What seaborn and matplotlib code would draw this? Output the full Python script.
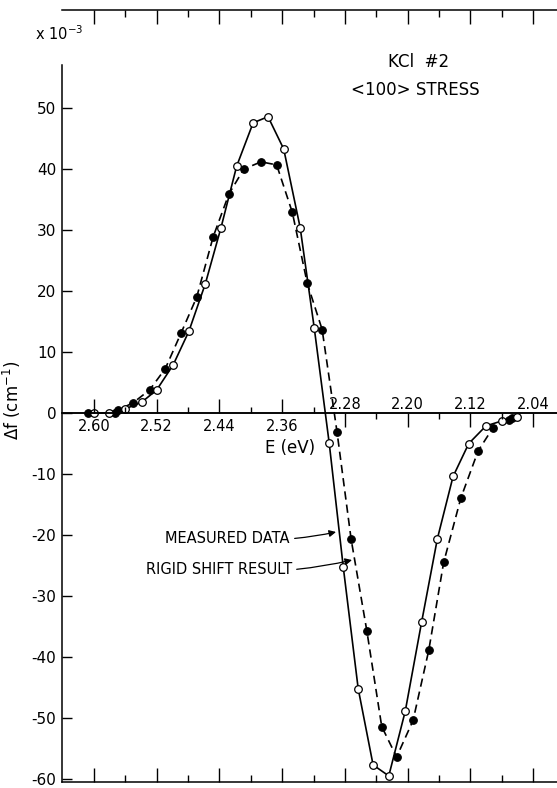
import matplotlib
matplotlib.use("Agg")
import matplotlib.pyplot as plt
import seaborn as sns

# Rigid shift result (open circles, solid line)
e_open = [2.600, 2.581, 2.560, 2.539, 2.520, 2.499, 2.479, 2.458, 2.438, 2.418,
          2.397, 2.378, 2.358, 2.337, 2.319, 2.300, 2.282, 2.263, 2.244, 2.224,
          2.203, 2.182, 2.162, 2.142, 2.122, 2.100, 2.080, 2.060]
df_open = [0.0, 0.0, 0.7, 1.8, 3.8, 7.9, 13.4, 21.2, 30.4, 40.5,
           47.6, 48.6, 43.3, 30.4, 13.9, -4.9, -25.3, -45.2, -57.7, -59.5,
           -48.9, -34.2, -20.6, -10.4, -5.0, -2.1, -1.3, -0.6]

# Measured data (filled circles, dashed line)
e_fill = [2.608, 2.573, 2.569, 2.550, 2.529, 2.509, 2.489, 2.469, 2.448, 2.428,
          2.409, 2.387, 2.367, 2.347, 2.328, 2.309, 2.290, 2.272, 2.252, 2.233,
          2.214, 2.193, 2.173, 2.154, 2.132, 2.110, 2.091, 2.071, 2.067]
df_fill = [0.0, 0.0, 0.5, 1.7, 3.8, 7.3, 13.1, 19.0, 28.9, 35.9,
           40.0, 41.2, 40.7, 32.9, 21.3, 13.7, -3.1, -20.7, -35.7, -51.4,
           -56.4, -50.4, -38.9, -24.5, -13.9, -6.2, -2.4, -1.1, -0.8]

major_left = [2.60, 2.52, 2.44, 2.36]
minor_left = [2.56, 2.48, 2.40, 2.32]
major_right = [2.28, 2.20, 2.12, 2.04]
minor_right = [2.24, 2.16, 2.08]
y_ticks = list(range(-60, 51, 10))

sns.set_theme(style="ticks")
plt.rcParams["font.family"] = ["DejaVu Sans"]
plt.rcParams.update({"text.color": "black", "axes.labelcolor": "black",
                     "xtick.color": "black", "ytick.color": "black",
                     "axes.edgecolor": "black"})

W, H = 557, 788
fig = plt.figure(figsize=(W / 100, H / 100), dpi=100)
left_px, right_px, top_px, bot_px = 62, 560, 10, 782
ax = fig.add_axes([left_px / W, 1 - bot_px / H, (right_px - left_px) / W, (bot_px - top_px) / H])

xlim = (2.6408, 2.0056)
ylim = (-60.5, 66.1)

sns.lineplot(x=e_fill, y=df_fill, sort=False, estimator=None, ax=ax, color="black",
             lw=1.2, linestyle=(0, (5, 3)))
sns.lineplot(x=e_open, y=df_open, sort=False, estimator=None, ax=ax, color="black", lw=1.2)
sns.scatterplot(x=e_fill, y=df_fill, ax=ax, marker="o", s=30, color="black",
                edgecolor="black", linewidth=0.8, zorder=5)
sns.scatterplot(x=e_open, y=df_open, ax=ax, marker="o", s=30, color="white",
                edgecolor="black", linewidth=0.9, zorder=6)

ax.set_xlim(xlim)
ax.set_ylim(ylim)

# axis through y = 0: left half labels below, right half labels above
axl = ax.twiny()
axr = ax.twiny()
for a in (axl, axr):
    a.set_xlim(xlim)
    for s in a.spines.values():
        s.set_visible(False)
    a.patch.set_visible(False)

axl.xaxis.set_ticks_position("bottom")
axl.xaxis.set_label_position("bottom")
axl.spines["bottom"].set_visible(True)
axl.spines["bottom"].set_position(("data", 0))
axl.spines["bottom"].set_linewidth(1.1)
axl.set_xticks(major_left)
axl.set_xticks(minor_left, minor=True)
axl.set_xticklabels([f"{v:.2f}" for v in major_left])
axl.tick_params(axis="x", which="major", direction="in", length=10, width=1,
                labelsize=10.5, pad=4)
axl.tick_params(axis="x", which="minor", direction="in", length=4, width=1)
axl.set_xlabel("E (eV)", fontsize=12)
axl.xaxis.set_label_coords((290 - left_px) / (right_px - left_px), (bot_px - 448) / (bot_px - top_px))
axl.xaxis.label.set_va("center")

axr.xaxis.set_ticks_position("top")
axr.spines["top"].set_visible(True)
axr.spines["top"].set_position(("data", 0))
axr.spines["top"].set_linewidth(1.1)
axr.set_xticks(major_right)
axr.set_xticks(minor_right, minor=True)
axr.set_xticklabels([f"{v:.2f}" for v in major_right])
axr.tick_params(axis="x", which="major", direction="in", length=10, width=1,
                labelsize=10.5, pad=1)
axr.tick_params(axis="x", which="minor", direction="in", length=4, width=1)

# outer frame
ax.spines["right"].set_visible(False)
for k in ("left", "top", "bottom"):
    ax.spines[k].set_linewidth(1.1)
ax.spines["left"].set_bounds(-60.5, 57.0)
ax.set_xticks(major_left + major_right)
ax.set_xticks(minor_left + minor_right, minor=True)
ax.tick_params(axis="x", which="both", direction="in", top=True, bottom=True,
               labelbottom=False, labeltop=False)
ax.tick_params(axis="x", which="major", length=10, width=1)
ax.tick_params(axis="x", which="minor", length=5, width=1)
ax.set_yticks(y_ticks)
ax.set_yticklabels([str(v) for v in y_ticks])
ax.tick_params(axis="y", which="major", direction="in", length=7, width=1,
               labelsize=11, pad=4)
ax.set_xlabel("")
ax.set_ylabel("Δf (cm$^{-1}$)", fontsize=12)
ax.yaxis.set_label_coords((23 - left_px) / (right_px - left_px), (bot_px - 400) / (bot_px - top_px))

fig.text(35 / W, 1 - 34 / H, "x 10$^{-3}$", fontsize=10.5, ha="left", va="center")
ax.text(2.60 - (419 - 94) / 784, (413 - 62) / 6.1, "KCl  #2", fontsize=12,
        ha="center", va="center")
ax.text(2.60 - (415 - 94) / 784, (413 - 90) / 6.1, "<100> STRESS", fontsize=12,
        ha="center", va="center")

ax.annotate("MEASURED DATA", xy=(2.2913, -19.5), xytext=(2.3500, -20.5),
            fontsize=10.5, ha="right", va="center",
            arrowprops=dict(arrowstyle="-|>", color="black", lw=0.9,
                            shrinkA=1, shrinkB=0, mutation_scale=10,
                            connectionstyle="arc3,rad=0.08"))
ax.annotate("RIGID SHIFT RESULT", xy=(2.2709, -24.1), xytext=(2.3474, -25.7),
            fontsize=10.5, ha="right", va="center",
            arrowprops=dict(arrowstyle="-|>", color="black", lw=0.9,
                            shrinkA=1, shrinkB=0, mutation_scale=10,
                            connectionstyle="arc3,rad=0.08"))

fig.savefig("out.png", dpi=100)
